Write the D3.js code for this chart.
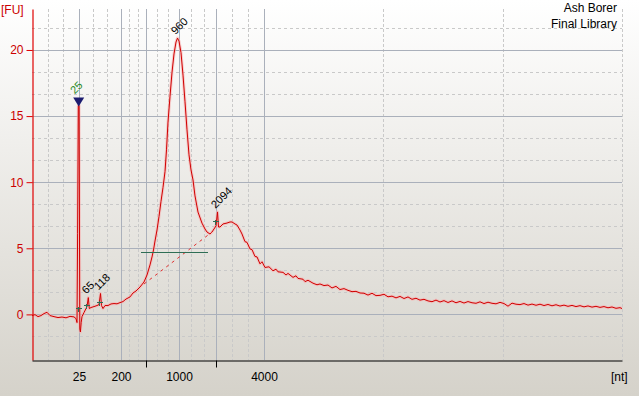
<!DOCTYPE html>
<html>
<head>
<meta charset="utf-8">
<script src="https://cdn.jsdelivr.net/npm/d3@7"></script>
<style>
  body { margin: 0; }
  svg { display: block; font-family: 'Liberation Sans', Arial, sans-serif; }
</style>
</head>
<body>
<svg width="639" height="396"></svg>
<script>
// migration time (s) and fluorescence (FU)
const timeSec = [
  17.0, 17.3, 17.6, 17.9, 18.2, 18.5, 18.8, 19.2, 19.6, 20.0, 20.4, 20.8, 21.2, 21.4, 21.5,
  21.56, 21.63, 21.71, 21.78, 21.84, 21.92, 22.0, 22.2, 22.4, 22.5, 22.63, 22.73, 22.9, 23.2, 23.5, 23.7,
  23.85, 23.95, 24.1, 24.3, 24.6, 24.9, 25.2, 25.5, 25.8, 26.1, 26.4, 26.8, 27.1, 27.4, 27.8,
  28.2, 28.5, 28.8, 29.0, 29.15, 29.3, 29.5, 29.7, 29.9, 30.1, 30.3, 30.45, 30.6, 30.8, 31.0,
  31.2, 31.4, 31.55, 31.7, 31.9, 32.1, 32.3, 32.5, 32.7, 32.9, 33.1, 33.3, 33.6, 34.0, 34.3,
  34.5, 34.8, 35.0, 35.2, 35.4, 35.55, 35.65, 35.8, 36.1, 36.5, 36.8, 37.0, 37.3, 37.5, 37.8,
  38.0, 38.3, 38.5, 38.8, 39.0, 39.3, 39.5, 39.8, 40.0, 40.3, 40.7, 41.1, 41.4, 41.6, 42.1, 42.4, 42.6,
  43.1, 43.4, 43.6, 44.1, 44.3, 44.6, 45.1, 45.5, 45.8, 46.2, 46.6, 47.0, 47.4, 47.8, 48.2, 48.6, 49.0,
  49.4, 49.8, 50.2, 50.6, 51.0, 51.4, 51.8, 52.2, 52.6, 53.0, 53.4, 53.8, 54.2, 54.6, 55.0,
  55.4, 55.8, 56.2, 56.6, 57.0, 57.4, 57.8, 58.2, 58.6, 59.0, 59.4, 59.8, 60.2, 60.6, 61.0,
  61.4, 61.8, 62.2, 62.6, 63.0, 63.4, 63.8, 64.2, 64.6, 65.0, 65.4, 65.8, 66.2, 66.6, 67.0,
  67.4, 67.8, 68.2, 68.6, 69.0, 69.4, 69.8, 70.2, 70.6, 71.0, 71.4, 71.8, 72.2, 72.6, 73.0,
  73.4, 73.8, 74.2, 74.6, 75.0, 75.4, 75.8, 76.0
];
const fluor = [
  -0.09, -0.02, -0.17, -0.09, 0.06, 0.16, -0.09, -0.17, -0.24, -0.2, -0.26, -0.15, -0.19, -0.32, -0.62,
  6.1, 15.8, 15.8, -1.1, -1.33, -0.6, -0.17, 0.14, 0.44, 0.59, 1.27, 0.44, 0.52, 0.59, 0.67, 0.74,
  1.58, 0.67, 0.44, 0.67, 0.67, 0.79, 0.82, 0.8, 0.89, 0.97, 1.16, 1.32, 1.62, 1.77, 2.07,
  2.45, 2.98, 3.74, 4.34, 4.87, 5.55, 6.38, 7.4, 8.55, 9.6, 10.8, 12.45, 14.55, 16.5, 18.3,
  19.7, 20.6, 20.9, 20.67, 19.8, 18.1, 16.08, 13.96, 12.07, 10.93, 10.17, 8.96, 7.74, 6.9, 6.46,
  6.23, 6.08, 6.23, 6.46, 6.69, 7.75, 6.61, 6.61, 6.84, 6.91, 6.99, 6.99, 6.84, 6.76, 6.38,
  6.08, 5.5, 5.45, 4.95, 4.9, 4.38, 4.35, 3.82, 3.98, 3.55, 3.6, 3.3, 3.42, 3.22, 3.18, 2.98, 3.1,
  2.8, 2.92, 2.72, 2.66, 2.48, 2.58, 2.36, 2.24, 2.3, 2.18, 2.22, 2.0, 2.12, 1.88, 1.95, 1.82, 1.72,
  1.74, 1.62, 1.6, 1.46, 1.6, 1.42, 1.44, 1.52, 1.33, 1.38, 1.25, 1.36, 1.2, 1.32, 1.14,
  1.22, 1.08, 1.14, 1.02, 0.96, 1.08, 0.94, 1.04, 0.9, 1.02, 0.88, 0.98, 0.86, 0.97, 0.88,
  0.84, 0.95, 0.82, 0.92, 0.84, 0.8, 0.91, 0.82, 0.62, 0.85, 0.77, 0.74, 0.82, 0.7, 0.78,
  0.69, 0.77, 0.67, 0.75, 0.65, 0.73, 0.63, 0.7, 0.61, 0.68, 0.59, 0.66, 0.57, 0.64, 0.55,
  0.61, 0.53, 0.59, 0.5, 0.56, 0.46, 0.51, 0.44
];

// ladder: migration time of each ladder band and its size
const ladderSec = [21.7, 25.9, 28.4, 31.7, 35.4, 40.2];
const ladderNt = [25, 200, 500, 1000, 2000, 4000];
const labelledNt = [25, 200, 1000, 4000];
const fuTicks = [0, 5, 10, 15, 20];

// called peaks
const peakSec = [21.67, 22.63, 23.85, 31.55, 35.55];
const peakFu = [15.8, 1.27, 1.58, 20.9, 7.75];
const peakLabels = ['25', '65', '118', '960', '2094'];

// peak start/end markers
const markSec = [21.6, 22.4, 23.7, 35.3];
const markFu = [0.45, 0.7, 0.95, 7.1];

// smear region and its baseline
const regionSec = [27.9, 34.6];
const regionFu = 4.72;
const baseSec = [28.2, 35.0];
const baseFu = [2.3, 6.23];

const sampleInfo = ['Ash Borer', 'Final Library'];

const svg = d3.select('svg');
const width = +svg.attr('width');
const height = +svg.attr('height');

const defs = svg.append('defs');
const grad = defs.append('linearGradient')
  .attr('id', 'bg').attr('x1', 0).attr('y1', 0).attr('x2', 0).attr('y2', 1);
grad.append('stop').attr('offset', '0%').attr('stop-color', '#ffffff');
grad.append('stop').attr('offset', '100%').attr('stop-color', '#d5d2ca');

svg.append('rect').attr('width', width).attr('height', height).attr('fill', 'url(#bg)');

const x = d3.scaleLinear().domain([17, 76]).range([32, 622]);
const y = d3.scaleLinear().domain([-3.45, 23.1]).range([360, 9]);

const [x0, x1] = x.range();
const [yb, yt] = y.range();

// minor grid: thirds between major lines
const xEdges = [x.domain()[0], ...ladderSec, x.domain()[1]];
const xMinor = [];
for (let i = 0; i < xEdges.length - 1; i++) {
  const step = (xEdges[i + 1] - xEdges[i]) / 3;
  xMinor.push(xEdges[i] + step, xEdges[i] + 2 * step);
}
xMinor.push(x.domain()[1]);
const yMinor = d3.range(-2, 15).map(k => k * 5 / 3)
  .filter(v => Math.abs(v / 5 - Math.round(v / 5)) > 0.01 && v > -3.3 && v < 23);

const grid = svg.append('g').attr('shape-rendering', 'crispEdges');
grid.selectAll('.hminor').data(yMinor).enter().append('line')
  .attr('x1', x0).attr('x2', x1)
  .attr('y1', d => Math.round(y(d)) + 0.5).attr('y2', d => Math.round(y(d)) + 0.5)
  .attr('stroke', '#c9c9c9').attr('stroke-dasharray', '3,3');
grid.selectAll('.vminor').data(xMinor).enter().append('line')
  .attr('y1', yt).attr('y2', yb)
  .attr('x1', d => Math.round(x(d)) + 0.5).attr('x2', d => Math.round(x(d)) + 0.5)
  .attr('stroke', '#c9c9c9').attr('stroke-dasharray', '3,2');
grid.selectAll('.hmajor').data(fuTicks).enter().append('line')
  .attr('x1', x0).attr('x2', x1)
  .attr('y1', d => Math.round(y(d)) + 0.5).attr('y2', d => Math.round(y(d)) + 0.5)
  .attr('stroke', '#aab0bb');
grid.selectAll('.vmajor').data(ladderSec).enter().append('line')
  .attr('y1', yt).attr('y2', yb)
  .attr('x1', d => Math.round(x(d)) + 0.5).attr('x2', d => Math.round(x(d)) + 0.5)
  .attr('stroke', '#aab0bb');

const pts = timeSec.map((t, i) => [t, fluor[i]]);
const line = d3.line().x(d => x(d[0])).y(d => y(d[1]));

svg.append('path').datum(pts)
  .attr('d', line).attr('fill', 'none')
  .attr('stroke', '#f6b0b0').attr('stroke-width', 3).attr('stroke-opacity', 0.6)
  .attr('stroke-linejoin', 'round');
svg.append('path').datum(pts)
  .attr('d', line).attr('fill', 'none')
  .attr('stroke', '#d00000').attr('stroke-width', 1)
  .attr('stroke-linejoin', 'round');

// baseline under the smear
svg.append('line')
  .attr('x1', x(baseSec[0])).attr('y1', y(baseFu[0]))
  .attr('x2', x(baseSec[1])).attr('y2', y(baseFu[1]))
  .attr('stroke', '#e03030').attr('stroke-dasharray', '3,4');

// region bar
svg.append('line')
  .attr('x1', x(regionSec[0])).attr('x2', x(regionSec[1]))
  .attr('y1', Math.round(y(regionFu)) + 0.5).attr('y2', Math.round(y(regionFu)) + 0.5)
  .attr('stroke', '#2e6e55').attr('stroke-width', 1.2);

// peak markers
const marks = svg.append('g').attr('stroke', '#2e6e55').attr('shape-rendering', 'crispEdges');
markSec.forEach((t, i) => {
  const cx = Math.round(x(t)) + 0.5, cy = Math.round(y(markFu[i])) + 0.5;
  marks.append('line').attr('x1', cx - 3).attr('x2', cx + 3).attr('y1', cy).attr('y2', cy);
  marks.append('line').attr('x1', cx).attr('x2', cx).attr('y1', cy - 2).attr('y2', cy + 3);
});

// lower marker triangle on the 25 nt peak
svg.append('path')
  .attr('d', `M${x(peakSec[0]) - 5.5},${y(peakFu[0]) - 8} h11 l-5.5,9 z`)
  .attr('fill', '#1c1c70');

// peak labels
peakLabels.forEach((lab, i) => {
  const px = x(peakSec[i]) + (i === 0 ? -4 : -2);
  const py = y(peakFu[i]) + (i === 0 ? -11 : -3);
  svg.append('text')
    .attr('transform', `translate(${px},${py}) rotate(-45)`)
    .attr('font-size', 11)
    .attr('fill', i === 0 ? '#2a8a2a' : '#000')
    .text(lab);
});

// y axis
const yAxis = d3.axisLeft(y).tickValues(fuTicks).tickSize(6).tickSizeOuter(0).tickPadding(3);
const yG = svg.append('g').attr('transform', `translate(${x0 + 0.5},0)`).call(yAxis);
yG.select('.domain').attr('stroke', '#e00000').attr('stroke-width', 1.2);
yG.selectAll('.tick line').attr('stroke', '#e00000');
yG.selectAll('.tick text').attr('fill', '#cc0000').attr('font-size', 12)
  .attr('font-family', "'Liberation Sans', Arial, sans-serif");

// x axis
const xAxis = d3.axisBottom(x).tickValues(ladderSec).tickSize(7).tickSizeOuter(0).tickPadding(5)
  .tickFormat((d, i) => labelledNt.includes(ladderNt[i]) ? ladderNt[i] : '');
const xG = svg.append('g').attr('transform', `translate(0,${yb + 0.5})`).call(xAxis);
xG.select('.domain').attr('stroke', '#000');
xG.selectAll('.tick line')
  .attr('stroke', (d, i) => labelledNt.includes(ladderNt[i]) ? 'none' : '#000');
xG.selectAll('.tick text').attr('fill', '#000').attr('font-size', 12)
  .attr('font-family', "'Liberation Sans', Arial, sans-serif");

svg.append('text').attr('x', 1).attr('y', 14)
  .attr('font-size', 12).attr('fill', '#cc0000').text('[FU]');
svg.append('text').attr('x', 611).attr('y', 381)
  .attr('font-size', 12).attr('fill', '#000').text('[nt]');

svg.selectAll('.info').data(sampleInfo).enter().append('text')
  .attr('x', 617).attr('y', (d, i) => 12 + i * 16)
  .attr('text-anchor', 'end').attr('font-size', 12).attr('fill', '#000')
  .text(d => d);
</script>
</body>
</html>
